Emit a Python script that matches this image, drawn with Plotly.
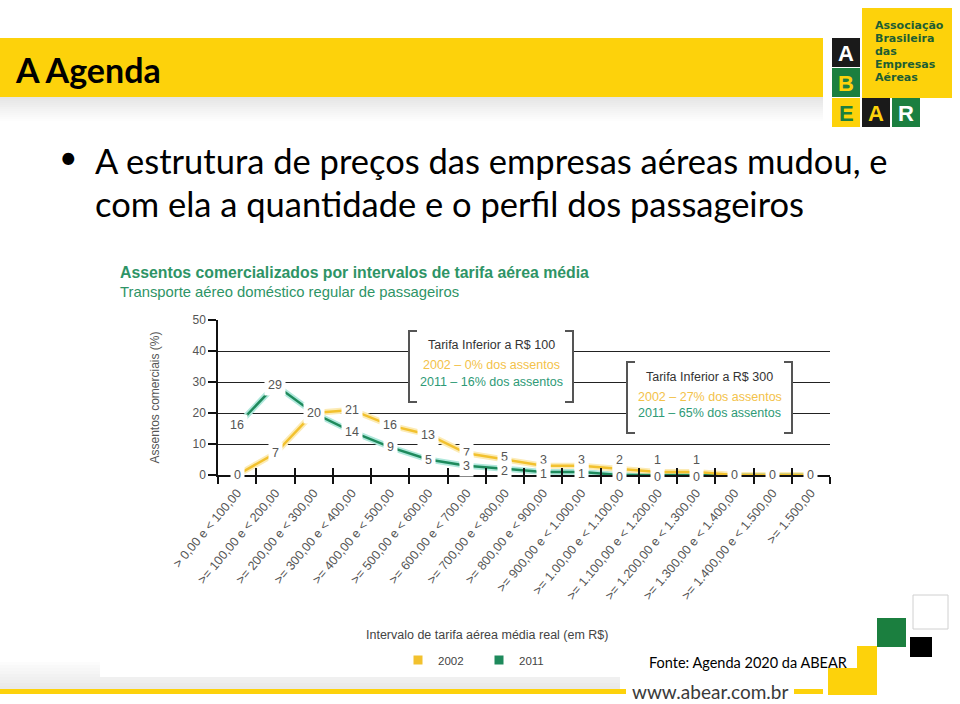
import plotly.graph_objects as go

# ---------------- data ----------------
categories = [
    "> 0,00 e < 100,00", ">= 100,00 e < 200,00", ">= 200,00 e < 300,00",
    ">= 300,00 e < 400,00", ">= 400,00 e < 500,00", ">= 500,00 e < 600,00",
    ">= 600,00 e < 700,00", ">= 700,00 e < 800,00", ">= 800,00 e < 900,00",
    ">= 900,00 e < 1.000,00", ">= 1.00,00 e < 1.100,00", ">= 1.100,00 e < 1.200,00",
    ">= 1.200,00 e < 1.300,00", ">= 1.300,00 e < 1.400,00", ">= 1.400,00 e < 1.500,00",
    ">= 1.500,00",
]
values_2002 = [0, 7, 20, 21, 16, 13, 7, 5, 3, 3, 2, 1, 1, 0, 0, 0]
values_2011 = [16, 29, 20, 14, 9, 5, 3, 2, 1, 1, 0, 0, 0, 0, 0, 0]
y_ticks = [0, 10, 20, 30, 40, 50]

# ---------------- layout geometry ----------------
W_FIG, H_FIG = 960, 704
L, R, T, B = 218, 830, 320, 475
PW, PH = R - L, B - T


def px(x):
    return (x - L) / PW


def py(y):
    return (B - y) / PH


YEL = "#F2C12E"
YEL_HALO = "#FCEBB5"
GRN = "#1E8A5C"
GRN_HALO = "#B0E8DC"
SLIDE_YEL = "#FDD20B"
CHART_FONT = "Liberation Sans Narrow, Liberation Sans, Arial, sans-serif"
SLIDE_FONT = "Lato, Carlito, Open Sans, sans-serif"

fig = go.Figure()

# halo traces (base axis)
fig.add_trace(go.Scatter(x=categories, y=values_2011, mode="lines",
                         line=dict(color=GRN_HALO, width=6), showlegend=False, hoverinfo="skip",
                         cliponaxis=False))
fig.add_trace(go.Scatter(x=categories, y=values_2002, mode="lines",
                         line=dict(color=YEL_HALO, width=6), showlegend=False, hoverinfo="skip",
                         cliponaxis=False))
# main lines (overlay axis, drawn on top)
fig.add_trace(go.Scatter(x=categories, y=values_2011, mode="lines", name="2011", xaxis="x2",
                         line=dict(color=GRN, width=2.5), showlegend=False, cliponaxis=False))
fig.add_trace(go.Scatter(x=categories, y=values_2002, mode="lines", name="2002", xaxis="x2",
                         line=dict(color=YEL, width=2.5), showlegend=False, cliponaxis=False))
# legend entries (square swatches)
fig.add_trace(go.Scatter(x=[None], y=[None], mode="markers", name="2002",
                         marker=dict(symbol="square", size=9, color=YEL)))
fig.add_trace(go.Scatter(x=[None], y=[None], mode="markers", name="2011",
                         marker=dict(symbol="square", size=9, color=GRN)))

annotations = []
shapes = []

# data labels
unit = PH / 50.0
for i, c in enumerate(categories):
    a, b = values_2002[i], values_2011[i]
    close = a != b and abs(a - b) <= 3
    ys_a = (3 + max(0.0, 4 - a) * unit) if close else 0
    annotations.append(dict(x=c, y=a, xref="x", yref="y", text=str(a), showarrow=False,
                            yshift=ys_a, bgcolor="white", borderpad=3,
                            font=dict(family=CHART_FONT, size=12.5, color="#555555")))
    if a != b:
        ys_b = -2 if (close and b <= 2) else 0
        annotations.append(dict(x=c, y=b, xref="x", yref="y", text=str(b), showarrow=False,
                                yshift=ys_b, bgcolor="white", borderpad=3,
                                font=dict(family=CHART_FONT, size=12.5, color="#555555")))

# ---------------- slide decoration ----------------
def rect(x0, y0, x1, y1, color, layer="above", line=None, opacity=1):
    shapes.append(dict(type="rect", xref="paper", yref="paper",
                       x0=px(x0), x1=px(x1), y0=py(y1), y1=py(y0),
                       fillcolor=color, opacity=opacity, layer=layer,
                       line=line or dict(width=0)))


def text(x, y, s, size, color, family=SLIDE_FONT, xanchor="left", yanchor="middle", bold=False):
    if bold:
        s = "<b>" + s + "</b>"
    annotations.append(dict(x=px(x), y=py(y), xref="paper", yref="paper", text=s,
                            showarrow=False, xanchor=xanchor, yanchor=yanchor,
                            font=dict(family=family, size=size, color=color)))


# top bar with shadow
for k in range(12):
    rect(0, 97 + k * 2, 823, 99 + k * 2, "#c8c8c8", layer="below", opacity=0.45 * (1 - k / 12))
rect(0, 38, 823, 97, SLIDE_YEL, layer="below")
text(13, 69, "A Agenda", 34, "#000000", bold=True)

# logo
rect(862, 8, 952, 98, SLIDE_YEL)
rect(832, 38, 860, 67, "#1a1a1a")
rect(832, 68, 860, 97, "#1B7F3F")
rect(832, 98, 860, 127, SLIDE_YEL)
rect(862, 98, 890, 127, "#1a1a1a")
rect(892, 98, 920, 127, "#1B7F3F")
for i, w in enumerate(["Associação", "Brasileira", "das", "Empresas", "Aéreas"]):
    text(873, 25 + i * 13.1, w, 11, "#1d5e33", family="DejaVu Sans, Liberation Sans, Arial", bold=True)
text(846, 53, "A", 22, "white", family="Liberation Sans, Arial", xanchor="center", bold=True)
text(846, 83, "B", 22, SLIDE_YEL, family="Liberation Sans, Arial", xanchor="center", bold=True)
text(846, 113, "E", 22, "#1B7F3F", family="Liberation Sans, Arial", xanchor="center", bold=True)
text(876, 113, "A", 22, SLIDE_YEL, family="Liberation Sans, Arial", xanchor="center", bold=True)
text(906, 113, "R", 22, "white", family="Liberation Sans, Arial", xanchor="center", bold=True)

# bullet text
text(57, 157, "•", 32, "#000000")
text(93, 160, "A estrutura de preços das empresas aéreas mudou, e", 34.5, "#000000")
text(93, 203, "com ela a quantidade e o perfil dos passageiros", 34.5, "#000000")

# bottom decorations
for k in range(10):
    rect(0, 662 + k * 3, 620, 665 + k * 3, "#d8d8d8", layer="below", opacity=0.08 + k * 0.06)
rect(100, 640, 840, 677, "white", layer="below")
rect(0, 689, 626, 694, SLIDE_YEL)
rect(794, 689, 823, 694, SLIDE_YEL)
rect(857, 646, 877, 695, SLIDE_YEL)
rect(828, 668, 877, 695, SLIDE_YEL)
rect(877, 618, 906, 647, "#1B7F3F")
rect(910, 637, 932, 657, "#000000")
rect(913, 595, 948, 629, "white", line=dict(color="#d0d0d0", width=1))
text(647, 662, "Fonte: Agenda 2020 da ABEAR", 14.5, "#000000")
text(630, 691, "www.abear.com.br", 19, "#3a3a3a")

# chart titles
text(118, 272, "Assentos comercializados por intervalos de tarifa aérea média", 15.8, "#2E9466",
     family="Liberation Sans, Arial", bold=True)
text(118, 292, "Transporte aéreo doméstico regular de passageiros", 14.8, "#2E9466",
     family="Liberation Sans, Arial")
text(487, 635, "Intervalo de tarifa aérea média real (em R$)", 12.5, "#444444",
     family=CHART_FONT, xanchor="center")


# bracket boxes
def bracket_box(x0, y0, x1, y1, title, l1, l2, ty):
    rect(x0, y0, x1, y1, "white")
    arm = 8
    for xa, xb in ((x0 + arm, x0), (x1 - arm, x1)):
        shapes.append(dict(type="path", xref="paper", yref="paper", layer="above",
                           path=f"M {px(xa)},{py(y0)} L {px(xb)},{py(y0)} L {px(xb)},{py(y1)} L {px(xa)},{py(y1)}",
                           line=dict(color="#555555", width=2)))
    cx = (x0 + x1) / 2
    text(cx, ty[0], title, 12.5, "#333333", family=CHART_FONT, xanchor="center")
    text(cx, ty[1], l1, 12.5, "#F3C24A", family=CHART_FONT, xanchor="center")
    text(cx, ty[2], l2, 12.5, "#2E9A76", family=CHART_FONT, xanchor="center")


bracket_box(409, 331, 573, 402, "Tarifa Inferior a R$ 100", "2002 – 0% dos assentos",
            "2011 – 16% dos assentos", (345, 365, 382))
bracket_box(627, 362, 792, 433, "Tarifa Inferior a R$ 300", "2002 – 27% dos assentos",
            "2011 – 65% dos assentos", (377, 397, 413))

fig.update_layout(
    width=W_FIG, height=H_FIG,
    margin=dict(l=L, r=W_FIG - R, t=T, b=H_FIG - B, pad=0),
    paper_bgcolor="white", plot_bgcolor="white",
    showlegend=True,
    legend=dict(orientation="h", x=px(398), y=py(660), xanchor="left", yanchor="middle",
                font=dict(family=CHART_FONT, size=11.5, color="#444444"),
                entrywidth=36, itemwidth=30, bgcolor="rgba(0,0,0,0)"),
    xaxis=dict(type="category", categoryorder="array", categoryarray=categories,
               range=[-0.5, len(categories) - 0.5], tickson="boundaries",
               ticks="outside", ticklen=7, tickwidth=1.5, tickcolor="#111111",
               showline=True, linecolor="#111111", linewidth=1.5, showgrid=False,
               tickangle=-50, tickfont=dict(family=CHART_FONT, size=12.5, color="#555555"),
               ticklabelstandoff=4, zeroline=False),
    xaxis2=dict(type="category", categoryorder="array", categoryarray=categories,
                overlaying="x", anchor="y", side="bottom", matches="x",
                range=[-0.5, len(categories) - 0.5], tickson="boundaries",
                ticks="inside", ticklen=7, tickwidth=1.5, tickcolor="#111111",
                showticklabels=False, showgrid=False, showline=False, zeroline=False),
    yaxis=dict(range=[0, 50], tickvals=y_ticks, ticks="outside", ticklen=8, tickwidth=1.5,
               tickcolor="#111111", showline=True, linecolor="#111111", linewidth=1.5,
               showgrid=True, gridcolor="#222222", gridwidth=1.3, zeroline=False,
               tickfont=dict(family=CHART_FONT, size=12, color="#555555"),
               title=dict(text="Assentos comerciais (%)", standoff=30,
                          font=dict(family=CHART_FONT, size=12, color="#555555"))),
    annotations=annotations,
    shapes=shapes,
)

fig.write_html("out.html", config={"displayModeBar": False},
               post_script="document.body.style.margin='0';document.body.style.overflow='hidden';")
